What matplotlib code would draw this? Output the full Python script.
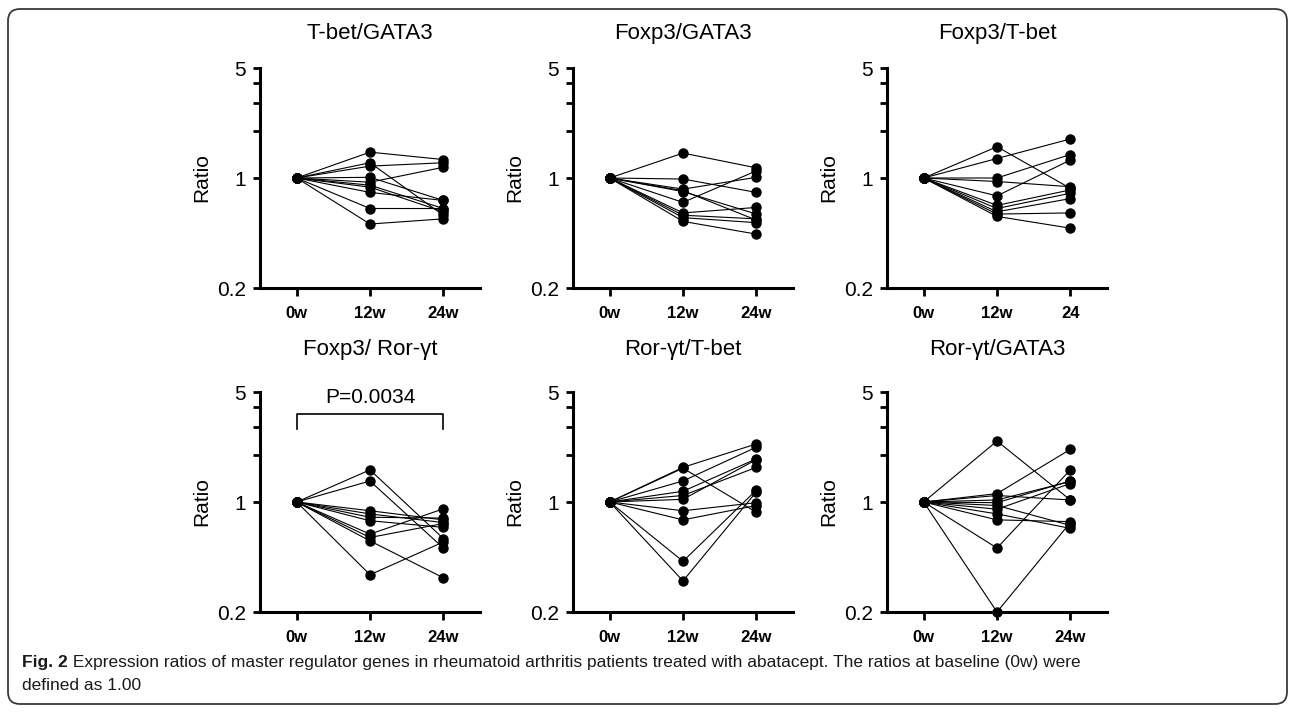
import matplotlib

matplotlib.use("Agg")
import matplotlib.pyplot as plt
from matplotlib.patches import FancyBboxPatch
from matplotlib.ticker import FixedLocator, FixedFormatter, NullFormatter
from matplotlib.transforms import IdentityTransform

plt.rcParams["font.family"] = ["Liberation Sans", "DejaVu Sans"]

# ---------------------------------------------------------------------------
# Data: ratio per patient at 12w and 24w (0w baseline defined as 1.00)
# ---------------------------------------------------------------------------
TIME_POINTS = [0, 1, 2]
BASELINE = 1.0

tbet_gata3_12w = [1.46, 1.25, 1.19, 1.01, 0.94, 0.90, 0.875, 0.81, 0.64, 0.51]
tbet_gata3_24w = [1.31, 0.58, 1.25, 0.72, 1.17, 0.64, 0.61, 0.72, 0.64, 0.55]

foxp3_gata3_12w = [1.44, 0.985, 0.85, 0.82, 0.70, 0.60, 0.58, 0.56, 0.53, 0.83]
foxp3_gata3_24w = [1.16, 0.81, 1.01, 0.59, 1.11, 0.65, 0.55, 0.52, 0.44, 0.54]

foxp3_tbet_12w = [1.58, 1.33, 1.00, 0.77, 0.67, 0.64, 0.61, 0.59, 0.57, 0.95]
foxp3_tbet_24w = [0.86, 1.77, 1.41, 1.30, 0.84, 0.80, 0.74, 0.60, 0.48, 0.88]

foxp3_ror_12w = [1.60, 1.36, 0.88, 0.84, 0.80, 0.76, 0.625, 0.595, 0.566, 0.345]
foxp3_ror_24w = [0.586, 0.51, 0.77, 0.74, 0.79, 0.69, 0.905, 0.73, 0.33, 0.557]

ror_tbet_12w = [1.66, 1.64, 1.36, 1.17, 1.10, 1.04, 0.88, 0.77, 0.42, 0.315]
ror_tbet_24w = [2.34, 0.86, 2.23, 1.88, 1.66, 1.86, 0.99, 0.95, 1.19, 1.16]

ror_gata3_12w = [2.44, 1.13, 1.10, 1.03, 0.99, 0.95, 0.90, 0.84, 0.77, 0.51, 0.20]
ror_gata3_24w = [1.03, 2.16, 1.03, 1.35, 1.36, 0.71, 1.31, 0.68, 0.75, 1.60, 0.74]

TITLES = ["T-bet/GATA3", "Foxp3/GATA3", "Foxp3/T-bet",
          "Foxp3/ Ror-\u03b3t", "Ror-\u03b3t/T-bet", "Ror-\u03b3t/GATA3"]
XLABELS = [["0w", "12w", "24w"], ["0w", "12w", "24w"], ["0w", "12w", "24"],
           ["0w", "12w", "24w"], ["0w", "12w", "24w"], ["0w", "12w", "24w"]]
SERIES = [
    (tbet_gata3_12w, tbet_gata3_24w),
    (foxp3_gata3_12w, foxp3_gata3_24w),
    (foxp3_tbet_12w, foxp3_tbet_24w),
    (foxp3_ror_12w, foxp3_ror_24w),
    (ror_tbet_12w, ror_tbet_24w),
    (ror_gata3_12w, ror_gata3_24w),
]
P_TEXT = "P=0.0034"

CAPTION_BOLD = "Fig. 2"
CAPTION_1 = (" Expression ratios of master regulator genes in rheumatoid arthritis "
             "patients treated with abatacept. The ratios at baseline (0w) were")
CAPTION_2 = "defined as 1.00"

# ---------------------------------------------------------------------------
W, H = 1295, 712
fig = plt.figure(figsize=(W / 100, H / 100), dpi=100)

# rounded frame around the whole figure
frame = FancyBboxPatch((8, 8), W - 16, H - 17,
                       boxstyle="round,pad=0,rounding_size=12",
                       transform=IdentityTransform(), fill=False,
                       edgecolor="#3a3a3a", lw=1.3)
fig.patches.append(frame)

lefts_px = [260, 573, 887]
bottoms_px = [288, 612]
w_px, h_px = 220, 220

for i, (title, xl, (v12, v24)) in enumerate(zip(TITLES, XLABELS, SERIES)):
    row, col = divmod(i, 3)
    ax = fig.add_axes([lefts_px[col] / W, 1 - bottoms_px[row] / H,
                       w_px / W, h_px / H])
    for a, b in zip(v12, v24):
        ax.plot(TIME_POINTS, [BASELINE, a, b], "-o", color="black", lw=0.8,
                ms=6.5, clip_on=False, zorder=3)
    ax.set_yscale("log")
    ax.set_ylim(0.2, 5)
    ax.set_xlim(-0.5, 2.5)
    ax.yaxis.set_major_locator(FixedLocator([0.2, 1, 5]))
    ax.yaxis.set_major_formatter(FixedFormatter(["0.2", "1", "5"]))
    ax.yaxis.set_minor_locator(FixedLocator([2, 3, 4]))
    ax.yaxis.set_minor_formatter(NullFormatter())
    ax.set_xticks(TIME_POINTS)
    ax.set_xticklabels(xl, fontweight="bold", fontsize=12)
    ax.tick_params(axis="y", which="both", direction="out", length=5,
                   width=2, labelsize=15, pad=5)
    ax.tick_params(axis="x", direction="out", length=6, width=2, pad=7)
    for s in ("top", "right"):
        ax.spines[s].set_visible(False)
    for s in ("left", "bottom"):
        ax.spines[s].set_linewidth(2.2)
    ax.patch.set_visible(False)
    ax.set_ylabel("Ratio", fontsize=15, labelpad=4)
    ax.set_title(title, fontsize=16, pad=21 if row == 0 else 27)

    if i == 3:
        # significance bracket between 0w and 24w
        ax.plot([0, 0, 2, 2], [2.9, 3.62, 3.62, 2.9], color="black", lw=1.2)
        ax.text(1, 4.6, P_TEXT, ha="center", va="center", fontsize=15)

# caption
renderer = fig.canvas.get_renderer()
t_bold = fig.text(22 / W, 1 - 662 / H, CAPTION_BOLD, fontsize=12.5,
                  fontweight="bold", va="center", ha="left", color="#1a1a1a")
bb = t_bold.get_window_extent(renderer)
fig.text(bb.x1 / W, 1 - 662 / H, CAPTION_1, fontsize=12.5, va="center",
         ha="left", color="#1a1a1a")
fig.text(22 / W, 1 - 686 / H, CAPTION_2, fontsize=12.5, va="center",
         ha="left", color="#1a1a1a")

fig.savefig("out.png", dpi=100)
